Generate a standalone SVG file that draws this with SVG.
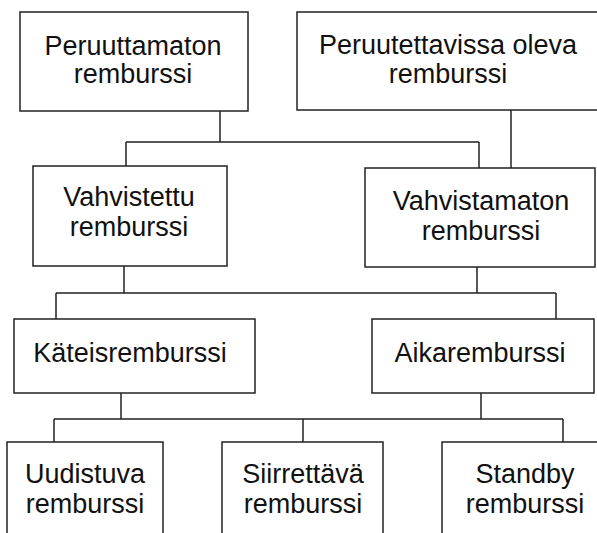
<svg xmlns="http://www.w3.org/2000/svg" width="597" height="533" viewBox="0 0 597 533">
<style>
.box{fill:#fff;stroke:#222;stroke-width:1.5}
.lbl{font-family:"Liberation Sans",Arial,sans-serif;font-size:27px;fill:#111;text-anchor:middle}
.con{fill:none;stroke:#222;stroke-width:1.5}
</style>
<rect width="597" height="533" fill="#fff"/>
<g id="connectors">
<path class="con" d="M220 111V142M126 142H479M126 142V166M479 142V168"/>
<path class="con" d="M511 110V168"/>
<path class="con" d="M124 266V293M477 267V293M56 293H556M56 293V319M556 293V319"/>
<path class="con" d="M121 393V419M481 393V419M54 419H563M54 419V442M303 419V442M563 419V442"/>
</g>
<g id="peruuttamaton">
<rect class="box" x="20" y="12" width="228" height="99"/>
<text class="lbl" x="133" y="55">Peruuttamaton</text>
<text class="lbl" x="133" y="83">remburssi</text>
</g>
<g id="peruutettavissa">
<rect class="box" x="297" y="12" width="304" height="98"/>
<text class="lbl" x="448" y="54">Peruutettavissa oleva</text>
<text class="lbl" x="448" y="83">remburssi</text>
</g>
<g id="vahvistettu">
<rect class="box" x="33" y="166" width="194" height="100"/>
<text class="lbl" x="129" y="206">Vahvistettu</text>
<text class="lbl" x="129" y="236">remburssi</text>
</g>
<g id="vahvistamaton">
<rect class="box" x="365" y="168" width="230" height="99"/>
<text class="lbl" x="481" y="210">Vahvistamaton</text>
<text class="lbl" x="481" y="240">remburssi</text>
</g>
<g id="kateis">
<rect class="box" x="14" y="319" width="241" height="74"/>
<text class="lbl" x="130" y="362">Käteisremburssi</text>
</g>
<g id="aika">
<rect class="box" x="372" y="319" width="222" height="74"/>
<text class="lbl" x="480" y="362">Aikaremburssi</text>
</g>
<g id="uudistuva">
<rect class="box" x="7" y="442" width="156" height="100"/>
<text class="lbl" x="85" y="483">Uudistuva</text>
<text class="lbl" x="85" y="513">remburssi</text>
</g>
<g id="siirrettava">
<rect class="box" x="222" y="442" width="161" height="100"/>
<text class="lbl" x="303" y="483">Siirrettävä</text>
<text class="lbl" x="303" y="513">remburssi</text>
</g>
<g id="standby">
<rect class="box" x="442" y="442" width="166" height="100"/>
<text class="lbl" x="525" y="483">Standby</text>
<text class="lbl" x="525" y="513">remburssi</text>
</g>
</svg>
